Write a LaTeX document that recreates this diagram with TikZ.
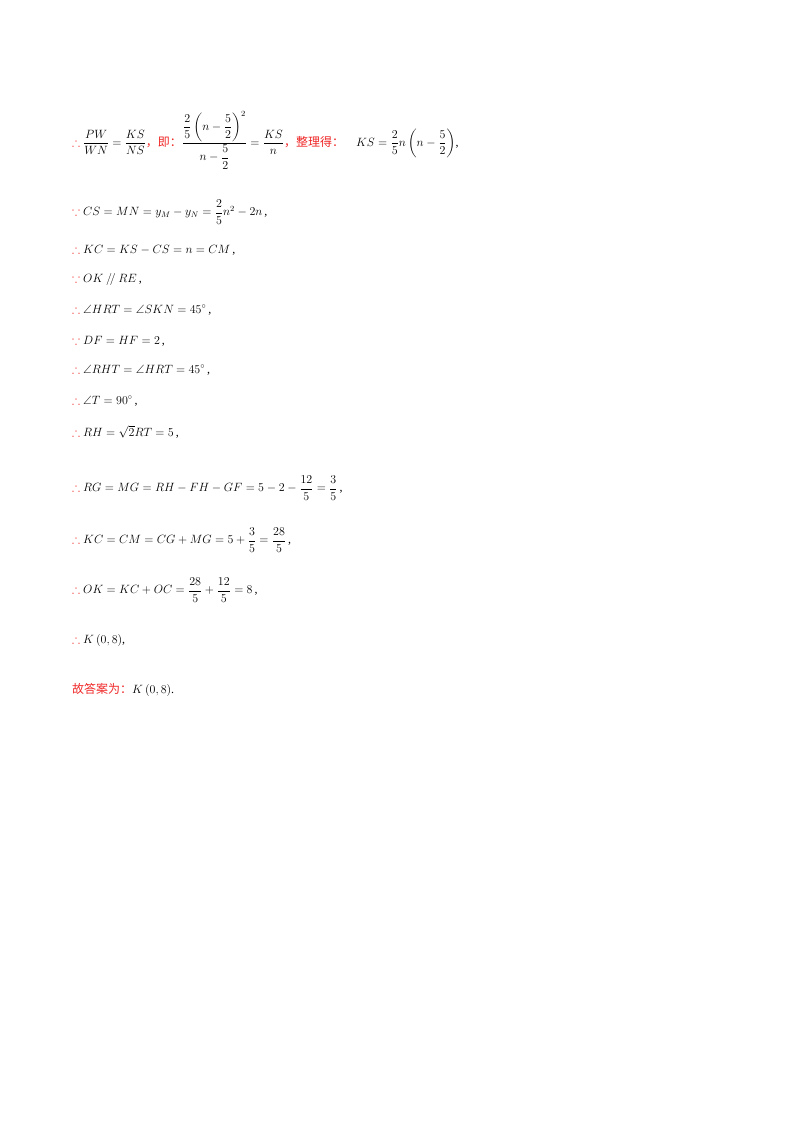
\documentclass[tikz,border=0pt]{standalone}
\usepackage{amsmath,amssymb}
\usepackage{fontspec}
\setmainfont{Liberation Serif}
\newfontfamily\cjk{Noto Sans CJK SC}
\definecolor{rd}{RGB}{240,40,40}
\newcommand{\tf}{\textcolor{rd}{$\therefore$}}
\newcommand{\bc}{\textcolor{rd}{$\because$}}
\begin{document}
\begin{tikzpicture}[x=1pt,y=-1pt,every node/.style={anchor=west,inner sep=0pt,font=\fontsize{12}{14}\selectfont}]
\useasboundingbox (0,0) rectangle (800,1132);
\fill[white] (0,0) rectangle (800,1132);
\node (l1) at (72,140) {\tf\ $\dfrac{PW}{WN}=\dfrac{KS}{NS}$\textcolor{rd}{\cjk ，即：}$\dfrac{\dfrac{2}{5}\left(n-\dfrac{5}{2}\right)^2}{n-\dfrac{5}{2}}=\dfrac{KS}{n}$\textcolor{rd}{\cjk ，整理得：}\quad$KS=\dfrac{2}{5}n\left(n-\dfrac{5}{2}\right)$,};
\node (l2) at (72,212) {\bc\ $CS=MN=y_M-y_N=\dfrac{2}{5}n^2-2n$\,,};
\node (l3) at (72,250) {\tf\ $KC=KS-CS=n=CM$\,,};
\node (l4) at (72,279) {\bc\ $OK\mathbin{/\!/}RE$\,,};
\node (l5) at (72,310) {\tf\ $\angle HRT=\angle SKN=45^\circ$\,,};
\node (l6) at (72,341) {\bc\ $DF=HF=2$\,,};
\node (l7) at (72,370) {\tf\ $\angle RHT=\angle HRT=45^\circ$\,,};
\node (l8) at (72,401) {\tf\ $\angle T=90^\circ$\,,};
\node (l9) at (72,432) {\tf\ $RH=\sqrt{2}RT=5$\,,};
\node (l10) at (72,488) {\tf\ $RG=MG=RH-FH-GF=5-2-\dfrac{12}{5}=\dfrac{3}{5}$\,,};
\node (l11) at (72,540) {\tf\ $KC=CM=CG+MG=5+\dfrac{3}{5}=\dfrac{28}{5}$\,,};
\node (l12) at (72,590) {\tf\ $OK=KC+OC=\dfrac{28}{5}+\dfrac{12}{5}=8$\,,};
\node (l13) at (72,640) {\tf\ $K\left(0,8\right)$,};
\node (l14) at (72,690) {\textcolor{rd}{\cjk 故答案为：}$K\left(0,8\right)$.};
\end{tikzpicture}
\end{document}
